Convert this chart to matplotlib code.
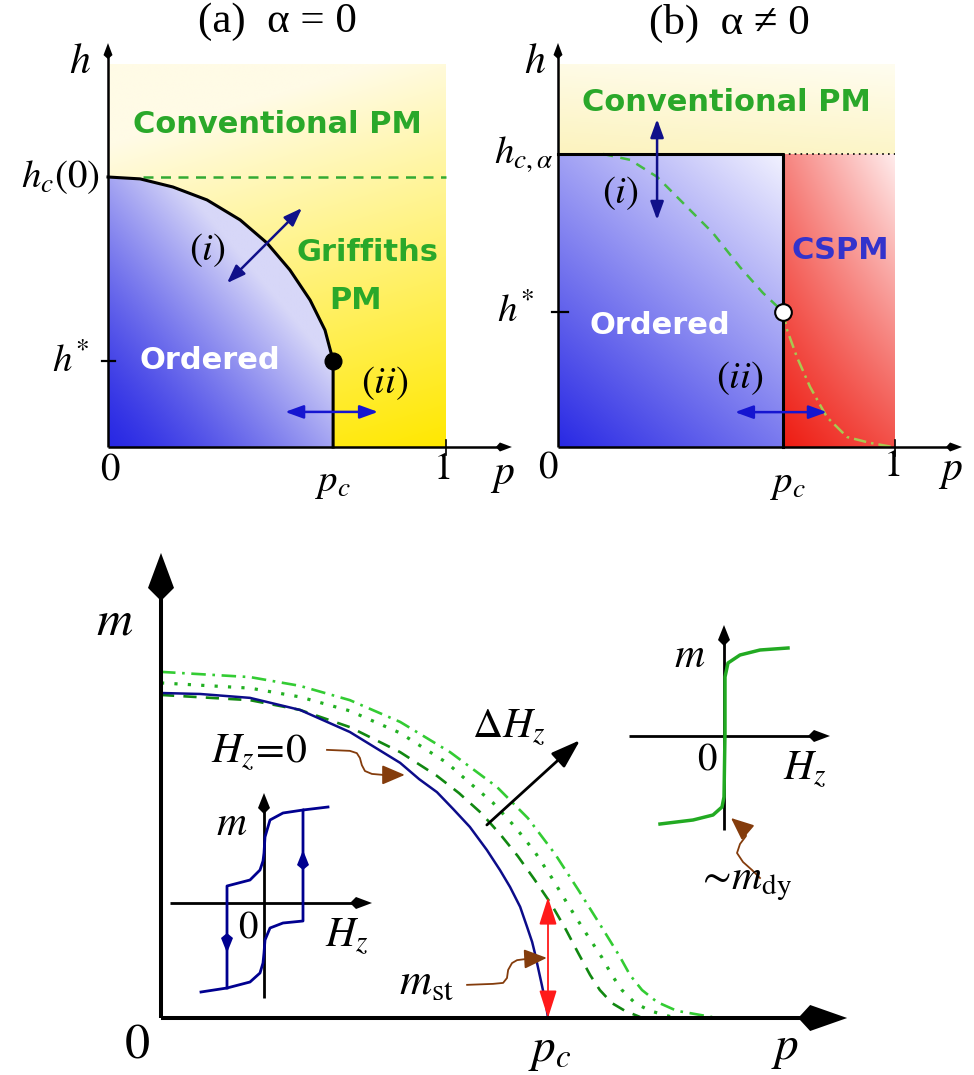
import numpy as np
import matplotlib
matplotlib.use("Agg")
import matplotlib.pyplot as plt
import matplotlib.transforms as mtransforms
from matplotlib.patches import Polygon

plt.rcParams['mathtext.fontset'] = 'stix'
plt.rcParams['font.family'] = ['Liberation Serif', 'DejaVu Serif']

W, H = 974, 1075

# ---- (a) alpha = 0 : p in units of 1, h in units of h_c(0)
pc_a, hstar_a, htop_a = 0.666, 0.32, 1.415
bound_a_p = [0.0, 0.095, 0.192, 0.293, 0.391, 0.470, 0.538, 0.598, 0.642, 0.666]
bound_a_h = [1.0, 0.993, 0.963, 0.915, 0.841, 0.756, 0.656, 0.544, 0.433, 0.32]

# ---- (b) alpha != 0 : h in units of h_{c,alpha}
pc_b, hstar_b, htop_b = 0.668, 0.461, 1.304
dash_b_p = [0.134, 0.214, 0.294, 0.383, 0.460, 0.540, 0.608, 0.668]
dash_b_h = [1.0, 0.980, 0.922, 0.819, 0.730, 0.614, 0.526, 0.461]
dd_b_p = [0.668, 0.680, 0.709, 0.748, 0.798, 0.858, 0.926, 0.994]
dd_b_h = [0.461, 0.399, 0.307, 0.205, 0.102, 0.034, 0.014, 0.0]

# ---- bottom: m vs p (p in units of p_c, m in units of m(0) at H_z = 0)
blue_p = [0, 0.101, 0.230, 0.359, 0.488, 0.618, 0.667, 0.713, 0.755, 0.798, 0.842,
          0.876, 0.902, 0.928, 0.946, 0.959, 0.966, 0.984, 0.995, 1.0]
blue_m = [1.0, 0.997, 0.985, 0.948, 0.880, 0.785, 0.735, 0.695, 0.643, 0.588, 0.517,
          0.455, 0.403, 0.342, 0.280, 0.234, 0.200, 0.102, 0.040, 0.0]
dash_p = [0, 0.230, 0.359, 0.488, 0.618, 0.713, 0.770, 0.827, 0.876, 0.922, 0.964,
          1.008, 1.044, 1.078, 1.109, 1.134, 1.165, 1.199, 1.238]
dash_m = [0.994, 0.978, 0.948, 0.895, 0.818, 0.745, 0.692, 0.631, 0.566, 0.498, 0.428,
          0.351, 0.277, 0.200, 0.132, 0.086, 0.046, 0.022, 0.003]
dot_p = [0, 0.230, 0.359, 0.488, 0.618, 0.739, 0.798, 0.858, 0.915, 0.966, 1.010,
         1.052, 1.096, 1.140, 1.165, 1.191, 1.225, 1.264, 1.320]
dot_m = [1.031, 1.015, 0.988, 0.945, 0.877, 0.785, 0.723, 0.662, 0.588, 0.511, 0.431,
         0.348, 0.265, 0.185, 0.132, 0.086, 0.046, 0.022, 0.003]
dd_p = [0, 0.230, 0.359, 0.488, 0.618, 0.747, 0.868, 0.948, 1.018, 1.080, 1.140,
        1.186, 1.212, 1.243, 1.282, 1.333, 1.424]
dd_m = [1.065, 1.049, 1.022, 0.978, 0.911, 0.818, 0.711, 0.615, 0.505, 0.391, 0.277,
        0.188, 0.132, 0.086, 0.049, 0.022, 0.003]
mst_top = 0.372

# ---- insets (m vs H_z, arbitrary units)
hyst_low_H = [-0.63, -0.37, -0.14, -0.04, -0.01, 0.0, 0.01, 0.06, 0.19, 0.39]
hyst_low_m = [-0.89, -0.85, -0.79, -0.70, -0.60, -0.50, -0.37, -0.25, -0.20, -0.18]
hyst_up_H = [0.64, 0.39, 0.19, 0.06, 0.01, 0.0, -0.01, -0.04, -0.14, -0.37]
hyst_up_m = [0.96, 0.93, 0.90, 0.83, 0.66, 0.50, 0.42, 0.33, 0.23, 0.17]
dy_H = [-0.64, -0.31, -0.11, -0.02, 0.0, 0.01, 0.01, 0.04, 0.16, 0.36, 0.64]
dy_m = [-0.88, -0.84, -0.79, -0.71, -0.61, 0.03, 0.59, 0.73, 0.81, 0.86, 0.88]

GREEN_TXT = '#2aa82a'
NAVY = '#10108a'
BROWN = '#843c0c'

fig = plt.figure(figsize=(W / 100, H / 100), dpi=100)


def px_axes(box, origin, scale):
    left, top, right, bottom = box
    ax = fig.add_axes([left / W, 1 - bottom / H, (right - left) / W, (bottom - top) / H])
    ax.set_xlim((left - origin[0]) / scale[0], (right - origin[0]) / scale[0])
    ax.set_ylim((origin[1] - bottom) / scale[1], (origin[1] - top) / scale[1])
    ax.axis('off')
    return ax


def shade(ax, ext, c_lo, c_hi, fn, clip=None):
    u, v = np.meshgrid(np.linspace(0, 1, 300), np.linspace(0, 1, 300))
    t = np.clip(fn(u, v), 0, 1)[..., None]
    c_lo, c_hi = np.array(c_lo) / 255, np.array(c_hi) / 255
    im = ax.imshow(c_lo + t * (c_hi - c_lo), extent=ext, origin='lower', aspect='auto',
                   interpolation='bilinear', zorder=0)
    if clip is not None:
        clip.set_transform(ax.transData)
        im.set_clip_path(clip)


def kite(ax, tip, angle, L, w, b, color='k'):
    a = np.deg2rad(angle)
    R = np.array([[np.cos(a), -np.sin(a)], [np.sin(a), np.cos(a)]])
    verts = (np.array([[0, 0], [-L, w], [-L - b, 0], [-L, -w]]) / 100.0) @ R.T
    tr = fig.dpi_scale_trans + mtransforms.ScaledTranslation(tip[0], tip[1], ax.transData)
    ax.add_patch(Polygon(verts, closed=True, transform=tr, facecolor=color,
                         edgecolor='none', zorder=10, clip_on=False))


def axis_line(ax, start, tip, lw, L, w, b, color='k'):
    d0 = ax.transData.transform(start)
    d1 = ax.transData.transform(tip)
    vec = d1 - d0
    u = vec / np.hypot(*vec)
    end = ax.transData.inverted().transform(d1 - u * L * 0.9)
    ax.plot([start[0], end[0]], [start[1], end[1]], color=color, lw=lw,
            solid_capstyle='butt', zorder=7, clip_on=False)
    kite(ax, tip, np.degrees(np.arctan2(vec[1], vec[0])), L, w, b, color)


def dbl_arrow(ax, a, b, color, lw=1.8, hl=0.55, hw=0.2):
    ax.annotate('', xy=b, xytext=a, zorder=6,
                arrowprops=dict(arrowstyle=f'<|-|>,head_length={hl},head_width={hw}',
                                color=color, lw=lw, shrinkA=0, shrinkB=0, mutation_scale=20))


def wavy(ax, xs, ys, color=BROWN):
    ax.plot(xs[:-1], ys[:-1], color=color, lw=1.3, zorder=6, clip_on=False)
    ax.annotate('', xy=(xs[-1], ys[-1]), xytext=(xs[-2], ys[-2]), zorder=6,
                arrowprops=dict(arrowstyle='-|>,head_length=0.7,head_width=0.3',
                                color=color, lw=1.3, shrinkA=0, shrinkB=0, mutation_scale=20))


def bold(ax, x, y, s, color):
    ax.text(x, y, s, color=color, fontsize=22, fontweight='bold', family='DejaVu Sans',
            ha='center', va='center', zorder=5)


def label(ax, x, y, s, size, ha='center'):
    ax.text(x, y, s, fontsize=size, ha=ha, va='center', zorder=9)


# =================== panel (a) ===================
axa = px_axes((0, 0, 540, 500), (108, 447), (338, 270))
shade(axa, (0, 1, 0, htop_a), (255, 232, 0), (255, 251, 230),
      lambda u, v: 0.95 * v + 0.25 * (1 - u))
ord_a = Polygon([(0, 0)] + list(zip(bound_a_p, bound_a_h)) + [(pc_a, 0)], closed=True)
shade(axa, (0, pc_a, 0, 1), (40, 40, 228), (215, 215, 248),
      lambda u, v: ((u + v) / 1.3) ** 1.3, clip=ord_a)
axa.plot([0.104, 1.0], [1, 1], color='#33aa33', lw=1.8, ls=(0, (4, 3)), zorder=3)
axa.plot(bound_a_p + [pc_a], bound_a_h + [0], color='k', lw=2.2, zorder=4)
axa.plot([pc_a], [hstar_a], 'o', color='k', ms=12, zorder=5)
axis_line(axa, (0, 0), (0, 1.496), 1.8, 12, 4.5, 4)
axis_line(axa, (0, 0), (1.195, 0), 1.8, 12, 4.5, 4)
axa.plot([-0.018, 0.021], [hstar_a, hstar_a], color='k', lw=1.6)
axa.plot([1, 1], [0.026, -0.03], color='k', lw=1.2)
dbl_arrow(axa, (0.352, 0.607), (0.574, 0.885), NAVY)
dbl_arrow(axa, (0.524, 0.13), (0.799, 0.13), '#1515d0')
bold(axa, 0.50, 1.193, 'Conventional PM', GREEN_TXT)
bold(axa, 0.769, 0.722, 'Griffiths', GREEN_TXT)
bold(axa, 0.731, 0.544, 'PM', GREEN_TXT)
bold(axa, 0.302, 0.322, 'Ordered', 'white')
label(axa, 0.293, 0.730, r'$(i)$', 28)
label(axa, 0.820, 0.237, r'$(ii)$', 28)
label(axa, -0.083, 1.422, r'$h$', 30)
label(axa, -0.024, 1.0, r'$h_c(0)$', 28, ha='right')
label(axa, -0.053, 0.315, r'$h^{*}$', 28, ha='right')
label(axa, 0.006, -0.085, r'$0$', 28)
label(axa, 0.666, -0.13, r'$p_c$', 28)
label(axa, 0.988, -0.085, r'$1$', 28)
label(axa, 1.166, -0.105, r'$p$', 30)
axa.text(0.5, 1.574, '(a)  α = 0', fontsize=31, ha='center', va='center')

# =================== panel (b) ===================
axb = px_axes((480, 0, 974, 500), (558, 447), (337, 293))
shade(axb, (0, 1, 1, htop_b), (252, 243, 190), (255, 253, 240),
      lambda u, v: 0.8 * v + 0.2 * u)
shade(axb, (0, pc_b, 0, 1), (40, 40, 228), (242, 242, 255),
      lambda u, v: (0.8 * u + 1.2 * v) / 2)
shade(axb, (pc_b, 1, 0, 1), (238, 28, 18), (255, 236, 236),
      lambda u, v: 0.25 * u + 0.5 * v + 0.25 * u * v)
axb.plot(dash_b_p, dash_b_h, color='#44bb44', lw=1.8, ls=(0, (4, 3)), zorder=3)
axb.plot(dd_b_p, dd_b_h, color='#a8c850', lw=1.8, ls=(0, (5, 2, 1, 2)), zorder=3)
axb.plot([0, pc_b, pc_b], [1, 1, 0], color='k', lw=2.2, zorder=4)
axb.plot([pc_b, 1], [1, 1], color='k', lw=1.2, ls=(0, (1, 2.5)), zorder=4)
axb.plot([pc_b], [hstar_b], 'o', mfc='white', mec='k', mew=1.5, ms=12, zorder=5)
axis_line(axb, (0, 0), (0, 1.379), 1.8, 12, 4.5, 4)
axis_line(axb, (0, 0), (1.199, 0), 1.8, 12, 4.5, 4)
axb.plot([-0.018, 0.03], [hstar_b, hstar_b], color='k', lw=1.6)
axb.plot([1, 1], [0.024, -0.03], color='k', lw=1.2)
dbl_arrow(axb, (0.294, 0.775), (0.294, 1.119), NAVY)
dbl_arrow(axb, (0.525, 0.119), (0.798, 0.119), '#1515d0')
bold(axb, 0.50, 1.177, 'Conventional PM', GREEN_TXT)
bold(axb, 0.837, 0.672, 'CSPM', '#3333cc')
bold(axb, 0.303, 0.416, 'Ordered', 'white')
label(axb, 0.184, 0.867, r'$(i)$', 28)
label(axb, 0.540, 0.235, r'$(ii)$', 28)
label(axb, -0.068, 1.311, r'$h$', 30)
label(axb, -0.015, 1.0, r'$h_{c,\alpha}$', 28, ha='right')
label(axb, -0.068, hstar_b, r'$h^{*}$', 28, ha='right')
label(axb, -0.03, -0.072, r'$0$', 28)
label(axb, 0.683, -0.123, r'$p_c$', 28)
label(axb, 0.991, -0.068, r'$1$', 28)
label(axb, 1.163, -0.085, r'$p$', 30)
axb.text(0.51, 1.447, '(b)  α ≠ 0', fontsize=31, ha='center', va='center')

# =================== bottom panel ===================
axm = px_axes((0, 520, 974, 1075), (161, 1018), (387, 325))
axm.plot(dd_p, dd_m, color='#33cc33', lw=1.9, ls=(0, (5.5, 2.5, 1, 2.5)), zorder=3)
axm.plot(dot_p, dot_m, color='#22b022', lw=2.3, ls=(0, (1, 3.2)), zorder=3)
axm.plot(dash_p, dash_m, color='#118811', lw=1.9, ls=(0, (5, 3.5)), zorder=3)
axm.plot(blue_p, blue_m, color='#0c0c8a', lw=1.8, zorder=4)
dbl_arrow(axm, (1.0, 0.0), (1.0, mst_top), '#ff1a1a', lw=1.3, hl=0.85, hw=0.27)
axm.annotate('', xy=(1.083, 0.855), xytext=(0.842, 0.594), zorder=5,
             arrowprops=dict(arrowstyle='-|>,head_length=0.9,head_width=0.3', color='k',
                             lw=2.0, shrinkA=0, shrinkB=0, mutation_scale=20))
axis_line(axm, (0, 0), (0, 1.431), 2.9, 35, 13, 13)
axis_line(axm, (0, 0), (1.773, 0), 2.9, 37, 13, 12)
wavy(axm, [0.429, 0.488, 0.506, 0.514, 0.519, 0.527, 0.545, 0.574, 0.630],
     [0.825, 0.822, 0.815, 0.800, 0.778, 0.760, 0.751, 0.748, 0.748])
wavy(axm, [0.791, 0.858, 0.884, 0.894, 0.897, 0.907, 0.920, 0.946, 0.997],
     [0.102, 0.105, 0.108, 0.123, 0.148, 0.169, 0.178, 0.182, 0.185])
label(axm, -0.119, 1.218, r'$m$', 36)
label(axm, -0.062, -0.083, r'$0$', 36)
label(axm, 1.005, -0.105, r'$p_c$', 34)
label(axm, 1.612, -0.098, r'$p$', 34)
label(axm, 0.899, 0.892, r'$\Delta H_z$', 30)
label(axm, 0.253, 0.815, r'$H_z\!=\!0$', 30)
label(axm, 0.687, 0.108, r'$m_{\rm st}$', 32)

# ---- hysteresis inset (H_z = 0)
axh = px_axes((140, 770, 400, 1010), (264, 903), (100, 100))
axis_line(axh, (0, -0.95), (0, 1.10), 2.0, 15, 6, 6)
axis_line(axh, (-0.94, 0), (1.08, 0), 2.0, 16, 6, 6)
axh.plot(hyst_low_H + [0.39, 0.64], hyst_low_m + [0.93, 0.96], color='#000090', lw=2.0, zorder=9)
axh.plot(hyst_up_H[1:] + [-0.37], hyst_up_m[1:] + [-0.85], color='#000090', lw=2.0, zorder=9)
kite(axh, (0.39, 0.53), 90, 15, 6, 5, '#000090')
kite(axh, (-0.37, -0.50), -90, 15, 6, 5, '#000090')
label(axh, -0.32, 0.78, r'$m$', 30)
label(axh, -0.16, -0.25, r'$0$', 28)
label(axh, 0.83, -0.34, r'$H_z$', 30)

# ---- dynamic inset
axd = px_axes((600, 600, 880, 920), (724, 736), (100, 100))
axis_line(axd, (0, -0.94), (0, 1.11), 2.0, 15, 6, 6)
axis_line(axd, (-0.95, 0), (1.06, 0), 2.0, 16, 6, 6)
axd.plot(dy_H, dy_m, color='#22aa22', lw=2.5, zorder=9)
wavy(axd, [0.36, 0.28, 0.19, 0.13, 0.16, 0.22, 0.21, 0.07],
     [-1.42, -1.34, -1.26, -1.17, -1.08, -1.00, -0.94, -0.82])
label(axd, -0.34, 0.79, r'$m$', 30)
label(axd, -0.17, -0.24, r'$0$', 28)
label(axd, 0.81, -0.34, r'$H_z$', 30)
label(axd, 0.20, -1.48, r'$\sim\!m_{\rm dy}$', 30)

fig.savefig('out.png', dpi=100)
